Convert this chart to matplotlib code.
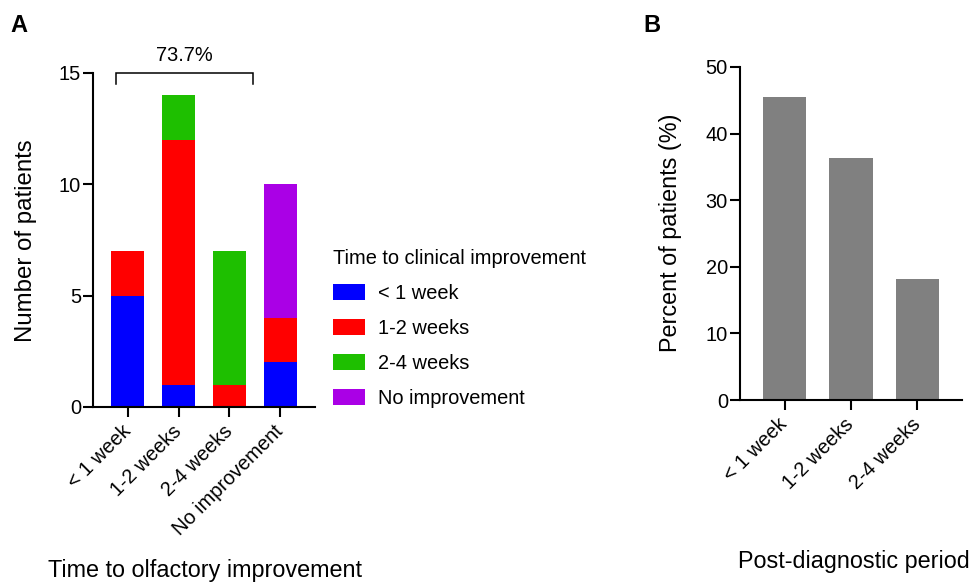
import matplotlib
matplotlib.use("Agg")
import matplotlib.pyplot as plt
import numpy as np

plt.rcParams['font.family'] = ['Liberation Sans', 'DejaVu Sans']

# ---- data ----
olf_categories = ['< 1 week', '1-2 weeks', '2-4 weeks', 'No improvement']
clin_lt1 = [5, 1, 0, 2]
clin_1to2 = [2, 11, 1, 2]
clin_2to4 = [0, 2, 6, 0]
clin_none = [0, 0, 0, 6]
series_names = ['< 1 week', '1-2 weeks', '2-4 weeks', 'No improvement']
bracket_label = '73.7%'

post_categories = ['< 1 week', '1-2 weeks', '2-4 weeks']
post_percent = [45.45, 36.36, 18.18]

colors = ['#0000FF', '#FF0000', '#1EBF00', '#AA00E6']
gray = '#808080'

W, H = 969, 582
fig = plt.figure(figsize=(W / 100, H / 100), dpi=100)

def fx(px):
    return px / W

def fy(py):
    return 1 - py / H

TICK_FS = 14.4
LAB_FS = 16.8
LW = 1.5

def style_axes(ax):
    for s in ['top', 'right']:
        ax.spines[s].set_visible(False)
    for s in ['left', 'bottom']:
        ax.spines[s].set_linewidth(LW)
    ax.tick_params(axis='both', direction='out', length=7.2, width=LW,
                   labelsize=TICK_FS, colors='black')
    ax.tick_params(axis='y', pad=1.5)

# ---- Panel A ----
axA = fig.add_axes([fx(93), fy(407), fx(315) - fx(93), fy(73) - fy(407)])
x = np.arange(len(olf_categories))
bw = 0.65
series = [clin_lt1, clin_1to2, clin_2to4, clin_none]
bottom = np.zeros(len(olf_categories))
for vals, c, name in zip(series, colors, series_names):
    axA.bar(x, vals, bw, bottom=bottom, color=c, label=name, linewidth=0)
    bottom += np.array(vals)
axA.set_xlim(-0.68, 3.68)
axA.set_ylim(0, 15)
axA.set_yticks([0, 5, 10, 15])
axA.set_xticks(x)
axA.set_xticklabels(olf_categories, rotation=45, ha='right', va='center',
                    rotation_mode='anchor')
style_axes(axA)
axA.tick_params(axis='x', pad=8)

# bracket
bx0, bx1 = -0.22, 2.46
axA.plot([bx0, bx0, bx1, bx1], [14.5, 15, 15, 14.5], color='black',
         lw=1.1, clip_on=False, solid_joinstyle='miter')
axA.text((bx0 + bx1) / 2, 15.35, bracket_label, ha='center', va='bottom',
         fontsize=TICK_FS)

leg = axA.legend(loc='upper left', bbox_to_anchor=(fx(333), fy(249)),
                 bbox_transform=fig.transFigure, frameon=False,
                 title='Time to clinical improvement', title_fontsize=TICK_FS,
                 fontsize=TICK_FS, handlelength=1.6, handleheight=0.9,
                 handletextpad=0.65, labelspacing=0.79, borderpad=0,
                 borderaxespad=0, alignment='left')

fig.text(fx(205), fy(577), 'Time to olfactory improvement', ha='center',
         va='baseline', fontsize=LAB_FS)
fig.text(fx(26), fy(241), 'Number of patients', ha='center', va='center',
         rotation=90, fontsize=17.3)
fig.text(fx(10), fy(32), 'A', fontsize=17, fontweight='bold', va='baseline')

# ---- Panel B ----
axB = fig.add_axes([fx(740), fy(400), fx(962) - fx(740), fy(67) - fy(400)])
xb = np.arange(len(post_categories))
axB.bar(xb, post_percent, bw, color=gray, linewidth=0)
axB.set_xlim(-0.67, 2.67)
axB.set_ylim(0, 50)
axB.set_yticks([0, 10, 20, 30, 40, 50])
axB.set_xticks(xb)
axB.set_xticklabels(post_categories, rotation=45, ha='right', va='center',
                    rotation_mode='anchor')
style_axes(axB)
axB.tick_params(axis='x', pad=8)

fig.text(fx(854), fy(568), 'Post-diagnostic period', ha='center',
         va='baseline', fontsize=LAB_FS)
fig.text(fx(670), fy(233), 'Percent of patients (%)', ha='center',
         va='center', rotation=90, fontsize=LAB_FS)
fig.text(fx(643), fy(32), 'B', fontsize=17, fontweight='bold', va='baseline')

fig.savefig('out.png', dpi=100)
